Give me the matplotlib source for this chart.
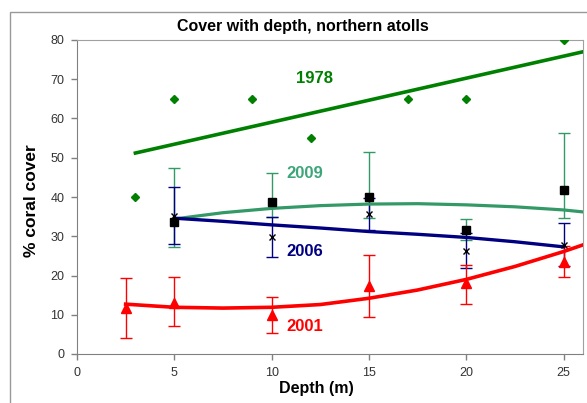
import matplotlib.pyplot as plt
from matplotlib.patches import Rectangle
import numpy as np

plt.rcParams['font.family'] = ['Liberation Sans', 'DejaVu Sans']

# 1978 survey (points only)
x78 = [3, 5, 9, 12, 17, 20, 25]
y78 = [40, 65, 65, 55, 65, 65, 80]

# 2001 survey
x01 = [2.5, 5, 10, 15, 20, 25]
y01 = [11.6, 13.1, 9.9, 17.3, 18.0, 23.5]
hi01 = [19.3, 19.7, 14.6, 25.2, 22.8, 27.4]
lo01 = [4.0, 7.1, 5.3, 9.5, 12.7, 19.7]

# 2006 survey
x06 = [5, 10, 15, 20, 25]
y06 = [35.2, 29.7, 35.7, 26.3, 27.8]
hi06 = [42.5, 34.8, 39.7, 30.8, 33.3]
lo06 = [27.9, 24.6, 31.6, 21.8, 22.4]

# 2009 survey
x09 = [5, 10, 15, 20, 25]
y09 = [33.7, 38.6, 40.1, 31.7, 41.9]
hi09 = [47.5, 46.0, 51.5, 34.3, 56.2]
lo09 = [27.2, 34.8, 34.6, 29.1, 34.6]

# trend lines
t78_x = [3, 26]
t78_y = [51.2, 77.0]
t01_x = [2.5, 5, 7.5, 10, 12.5, 15, 17.5, 20, 22.5, 25, 26]
t01_y = [12.7, 11.9, 11.7, 11.9, 12.6, 14.2, 16.3, 19.0, 22.3, 26.1, 27.8]
t06_x = [5, 7.5, 10, 12.5, 15, 17.5, 20, 22.5, 25]
t06_y = [34.6, 33.8, 32.9, 32.1, 31.2, 30.5, 29.7, 28.6, 27.3]
t09_x = [5, 7.5, 10, 12.5, 15, 17.5, 20, 22.5, 25, 26]
t09_y = [34.4, 36.0, 37.1, 37.8, 38.2, 38.3, 38.0, 37.5, 36.7, 36.2]

green = '#008000'
teal = '#339966'
navy = '#000080'
red = '#ff0000'

fig = plt.figure(figsize=(5.87, 4.03), dpi=100)
fig.patches.append(Rectangle((10/587, -0.1), 1.2, (403-12)/403 + 0.1,
                             transform=fig.transFigure, fill=False,
                             edgecolor='#999999', lw=1))
ax = fig.add_axes([77/587, 49/403, 506/587, 314/403])

def err(y, lo, hi):
    y = np.array(y); return [y - np.array(lo), np.array(hi) - y]

ax.errorbar(x09, y09, yerr=err(y09, lo09, hi09), fmt='none', ecolor=teal,
            elinewidth=1, capsize=4, capthick=1, zorder=2)
ax.errorbar(x06, y06, yerr=err(y06, lo06, hi06), fmt='none', ecolor=navy,
            elinewidth=1, capsize=4, capthick=1, zorder=2)
ax.errorbar(x01, y01, yerr=err(y01, lo01, hi01), fmt='none', ecolor=red,
            elinewidth=1, capsize=4, capthick=1, zorder=2)

ax.plot(t78_x, t78_y, color=green, lw=2.6, zorder=3)
ax.plot(t09_x, t09_y, color=teal, lw=2.3, zorder=3)
ax.plot(t06_x, t06_y, color=navy, lw=2.4, zorder=3)
ax.plot(t01_x, t01_y, color=red, lw=2.6, zorder=3)

ax.plot(x78, y78, 'D', color=green, ms=4.5, zorder=4)
ax.plot(x09, y09, 's', color='black', ms=5.5, zorder=4)
ax.plot(x06, y06, 'x', color='black', ms=5, mew=1, zorder=4)
ax.plot(x01, y01, '^', color=red, ms=6.5, zorder=4)

ax.text(12.2, 70.3, '1978', color=green, fontsize=12, fontweight='bold', ha='center', va='center')
ax.text(11.7, 45.9, '2009', color='#3ca57a', fontsize=12, fontweight='bold', ha='center', va='center')
ax.text(11.7, 26.0, '2006', color=navy, fontsize=12, fontweight='bold', ha='center', va='center')
ax.text(11.7, 7.1, '2001', color=red, fontsize=12, fontweight='bold', ha='center', va='center')

ax.set_xlim(0, 26)
ax.set_ylim(0, 80)
ax.set_xticks(range(0, 26, 5))
ax.set_yticks(range(0, 81, 10))
ax.tick_params(labelsize=9, labelcolor='#333333', color='#808080', length=4, width=1, pad=5)
for s in ax.spines.values():
    s.set_color('#a0a0a0')
ax.spines['left'].set_color('#808080')
ax.spines['bottom'].set_color('#808080')

ax.set_xlabel('Depth (m)', fontsize=11.5, fontweight='bold')
ax.set_ylabel('% coral cover', fontsize=12.5, fontweight='bold')
ax.xaxis.set_label_coords(0.474, -0.086)
ax.yaxis.set_label_coords(-0.075, 0.487)
fig.text(303/587, 1 - 27/403, 'Cover with depth, northern atolls', fontsize=11.5,
         fontweight='bold', ha='center', va='center')

fig.savefig('out.png', dpi=100)
